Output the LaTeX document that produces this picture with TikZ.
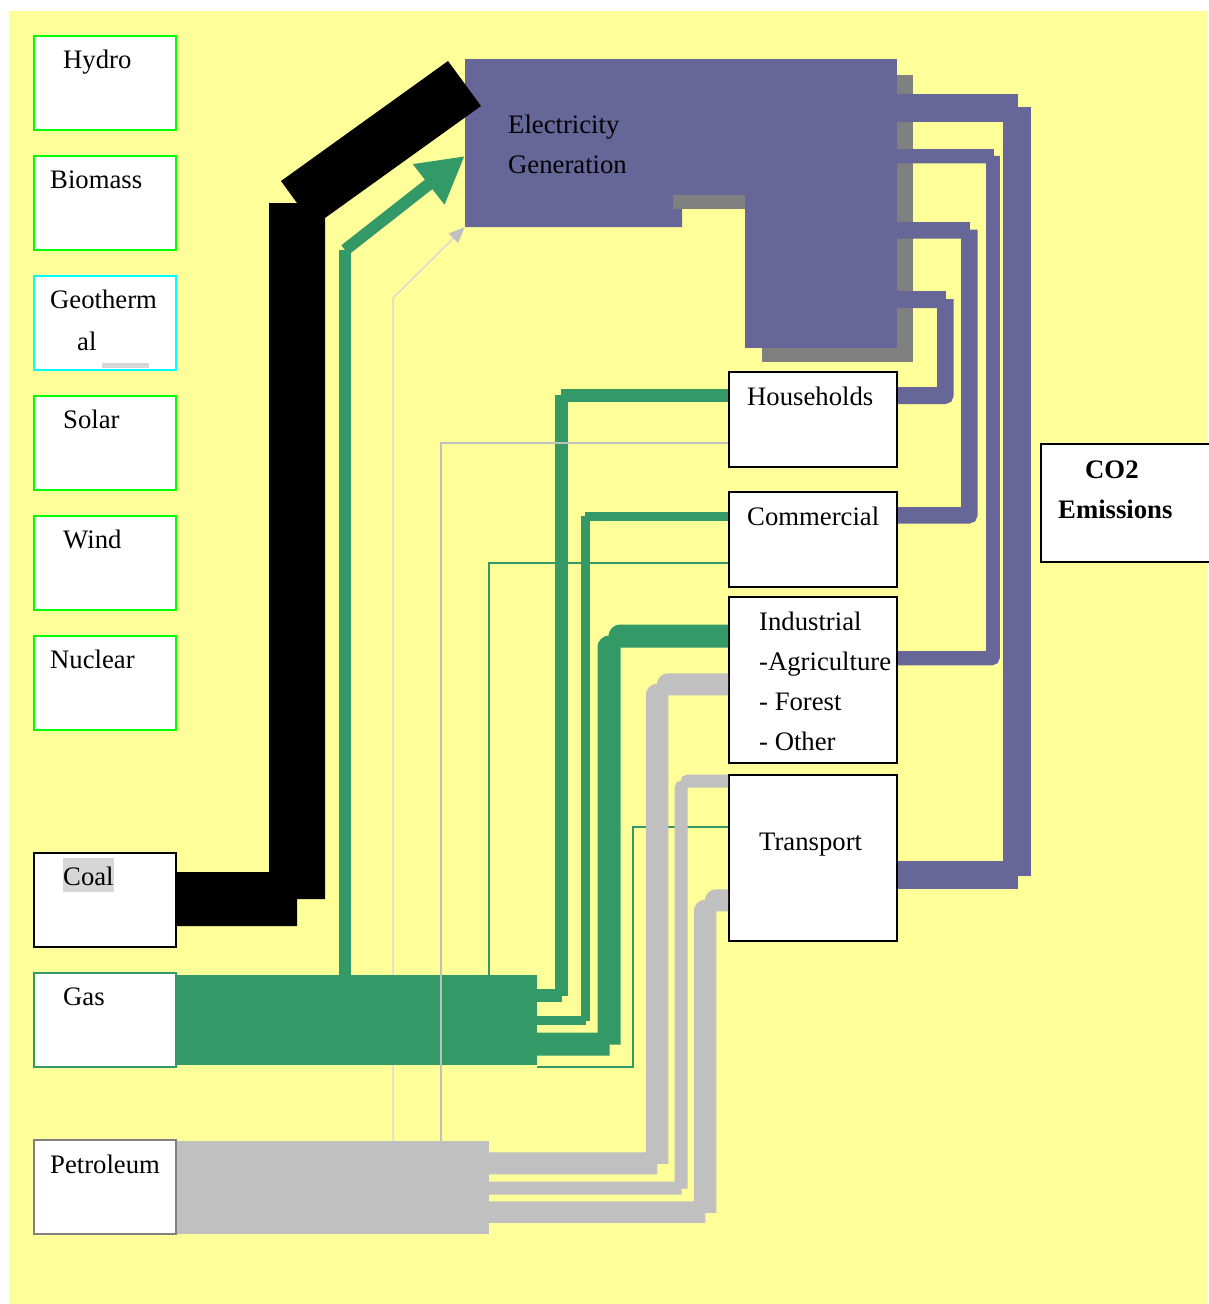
\documentclass[tikz,border=0pt]{standalone}
\usepackage{fontspec}
\setmainfont{Liberation Serif}
\usetikzlibrary{arrows.meta}

\definecolor{paperyellow}{HTML}{FFFF99}
\definecolor{elecblue}{HTML}{666699}
\definecolor{gasgreen}{HTML}{339966}
\definecolor{oilgray}{HTML}{C0C0C0}
\definecolor{shadowgray}{HTML}{808080}
\definecolor{srcgreen}{HTML}{00FF00}
\definecolor{srccyan}{HTML}{00FFFF}
\definecolor{hilite}{HTML}{D6D6D6}
\definecolor{faintgray}{HTML}{D9D9D9}

\begin{document}
\begin{tikzpicture}[x=1pt, y=-1pt, font=\fontsize{26.7pt}{32pt}\selectfont,
        every node/.style={inner sep=0pt},
        src/.style={draw=srcgreen, line width=2pt, fill=white, minimum width=142pt, minimum height=94pt},
        sink/.style={draw=black, line width=2pt, fill=white, minimum width=168pt, minimum height=95pt},
        txt/.style={anchor=base west},
        band/.style={line width=#1}]
    \useasboundingbox (0,0) rectangle (1208,1304);
    \fill[white] (0,0) rectangle (1208,1304);
    \fill[paperyellow] (9,11) rectangle (1208,1304);

    % sources
    \node[src] (hydro) at (105,83) {};
    \node[src] (biomass) at (105,203) {};
    \node[src, draw=srccyan] (geo) at (105,323) {};
    \node[src] (solar) at (105,443) {};
    \node[src] (wind) at (105,563) {};
    \node[src] (nuclear) at (105,683) {};
    \node[src, draw=black] (coal) at (105,900) {};
    \node[src, draw=gasgreen] (gas) at (105,1020) {};
    \node[src, draw=shadowgray] (petrol) at (105,1187) {};

    \node[txt] (hydro-t) at (63,68) {Hydro};
    \node[txt] (biomass-t) at (50,188) {Biomass};
    \node[txt] (geo-t1) at (50,308) {Geotherm};
    \node[txt] (geo-t2) at (77,350) {al};
    \fill[hilite] (102,363) rectangle (149,368);
    \node[txt] (solar-t) at (63,428) {Solar};
    \node[txt] (wind-t) at (63,548) {Wind};
    \node[txt] (nuclear-t) at (50,668) {Nuclear};
    \node[txt, fill=hilite, text height=27pt, text depth=7pt] (coal-t) at (63,885) {Coal};
    \node[txt] (gas-t) at (63,1005) {Gas};
    \node[txt] (petrol-t) at (50,1173) {Petroleum};

    % end uses
    \node[sink] (hh) at (813,419.5) {};
    \node[sink] (com) at (813,539) {};
    \node[sink, minimum height=166pt] (ind) at (813,680) {};
    \node[sink, minimum height=166pt] (trans) at (813,858) {};
    \node[sink, minimum width=200pt, minimum height=118pt, line width=2.5pt] (co2) at (1141,503) {};

    \node[txt] (hh-t) at (747,405) {Households};
    \node[txt] (com-t) at (747,525) {Commercial};
    \node[txt] (ind-t1) at (759,630) {Industrial};
    \node[txt] (ind-t2) at (759,670) {-Agriculture};
    \node[txt] (ind-t3) at (759,710) {- Forest};
    \node[txt] (ind-t4) at (759,750) {- Other};
    \node[txt] (trans-t) at (759,850) {Transport};
    \node[txt, font=\fontsize{26.7pt}{32pt}\selectfont\bfseries] (co2-t1) at (1085,478) {CO2};
    \node[txt, font=\fontsize{26.7pt}{32pt}\selectfont\bfseries] (co2-t2) at (1058,518) {Emissions};

    % generation block with its shadow
    \fill[shadowgray] (897,75) rectangle (913,362);
    \fill[shadowgray] (762,348) rectangle (913,362);
    \fill[shadowgray] (673,195) rectangle (745,209);
    \node[fill=elecblue, minimum width=432pt, minimum height=136pt] (elec) at (681,127) {};
    \fill[elecblue] (745,190) rectangle (897,348);
    \fill[elecblue] (465,190) -- (673,190) -- (673,209) -- (682,209) -- (682,227) -- (465,227) -- cycle;
    \node[txt] (elec-t1) at (508,133) {Electricity};
    \node[txt] (elec-t2) at (508,173) {Generation};

    \node[fill=oilgray, minimum width=312pt, minimum height=93pt] (oilband) at (333,1187.5) {};
    \draw[faintgray, line width=1.5pt, -{Triangle[length=16pt, width=13pt, color=oilgray]}]
        (oilband.north -| 393,0) -- (393,298) -- (elec.west |- 0,227);

    % coal into generation
    \fill[black] (coal.east |- 0,872) -- (269,872) -- (269,203) -- (297,203) -- (281,181) -- (448,61)
        -- (481,106) -- (325,218) -- (325,899) -- (297,899) -- (297,926) -- (coal.east |- 0,926) -- cycle;

    % gas
    \node[fill=gasgreen, minimum width=360pt, minimum height=90pt] (gasband) at (357,1020) {};
    \draw[gasgreen, band=12pt] (gasband.north -| 345,0) -- (345,250);
    \draw[gasgreen, band=12pt, -{Triangle[length=46pt, width=48pt]}] (345,250) -- (elec.west |- 0,156);
    \draw[gasgreen, line width=1.5pt] (gasband.north -| 489,0) |- (com.west |- 0,563);
    \draw[gasgreen, line width=2pt] (537,1067) -| (633,827) -- (trans.west |- 0,827);

    \draw[gasgreen, band=7pt] (gasband.east |- 0,992) -| (564,392) -- (hh.west |- 0,392);
    \draw[gasgreen, band=7pt] (gasband.east |- 0,998) -| (558,398) -- (hh.west |- 0,398);
    \draw[gasgreen, band=5pt] (gasband.east |- 0,1018) -| (587,514) -- (com.west |- 0,514);
    \draw[gasgreen, band=5pt] (gasband.east |- 0,1022) -| (583,518) -- (com.west |- 0,518);
    \draw[gasgreen, band=12pt] (gasband.east |- 0,1038.5) -| (614.5,700) [rounded corners=6pt] |- (ind.west |- 0,630.5);
    \draw[gasgreen, band=12pt] (gasband.east |- 0,1049.5) -| (603.5,700) [rounded corners=6pt] |- (ind.west |- 0,641.5);

    % petroleum
    \draw[oilgray, band=11.5pt] (oilband.east |- 0,1158) -| (662.5,800) [rounded corners=6pt] |- (ind.west |- 0,679);
    \draw[oilgray, band=11.5pt] (oilband.east |- 0,1168.5) -| (651.5,800) [rounded corners=6pt] |- (ind.west |- 0,689.5);
    \draw[oilgray, band=7pt] (oilband.east |- 0,1185) -| (684,900) [rounded corners=4pt] |- (trans.west |- 0,778);
    \draw[oilgray, band=7pt] (oilband.east |- 0,1191) -| (678,900) [rounded corners=4pt] |- (trans.west |- 0,784);
    \draw[oilgray, band=11.5pt] (oilband.east |- 0,1207) -| (710.5,1000) [rounded corners=6pt] |- (trans.west |- 0,895);
    \draw[oilgray, band=11.5pt] (oilband.east |- 0,1217) -| (699.5,1000) [rounded corners=6pt] |- (trans.west |- 0,905.5);
    \draw[oilgray, line width=2pt] (oilband.north -| 441,0) |- (hh.west |- 0,443);

    % emissions
    \draw[elecblue, band=14.5pt] (elec.east |- 0,101) -| (1010.5,882) -- (trans.east |- 0,882);
    \draw[elecblue, band=14.5pt] (elec.east |- 0,114.5) -| (1023.5,868.5) -- (trans.east |- 0,868.5);
    \draw[elecblue, band=7.5pt] (elec.east |- 0,152.5) -| (990,654.5) -- (ind.east |- 0,654.5);
    \draw[elecblue, band=7.5pt] (elec.east |- 0,159.5) -| (996,600) [rounded corners=4pt] |- (ind.east |- 0,661.5);
    \draw[elecblue, band=9pt] (elec.east |- 0,226) -| (965,511) -- (com.east |- 0,511);
    \draw[elecblue, band=9pt] (elec.east |- 0,234) -| (973,450) [rounded corners=4pt] |- (com.east |- 0,519);
    \draw[elecblue, band=9pt] (elec.east |- 0,295.5) -| (941,391.5) -- (hh.east |- 0,391.5);
    \draw[elecblue, band=9pt] (elec.east |- 0,303.5) -| (949,360) [rounded corners=4pt] |- (hh.east |- 0,399.5);
\end{tikzpicture}
\end{document}
